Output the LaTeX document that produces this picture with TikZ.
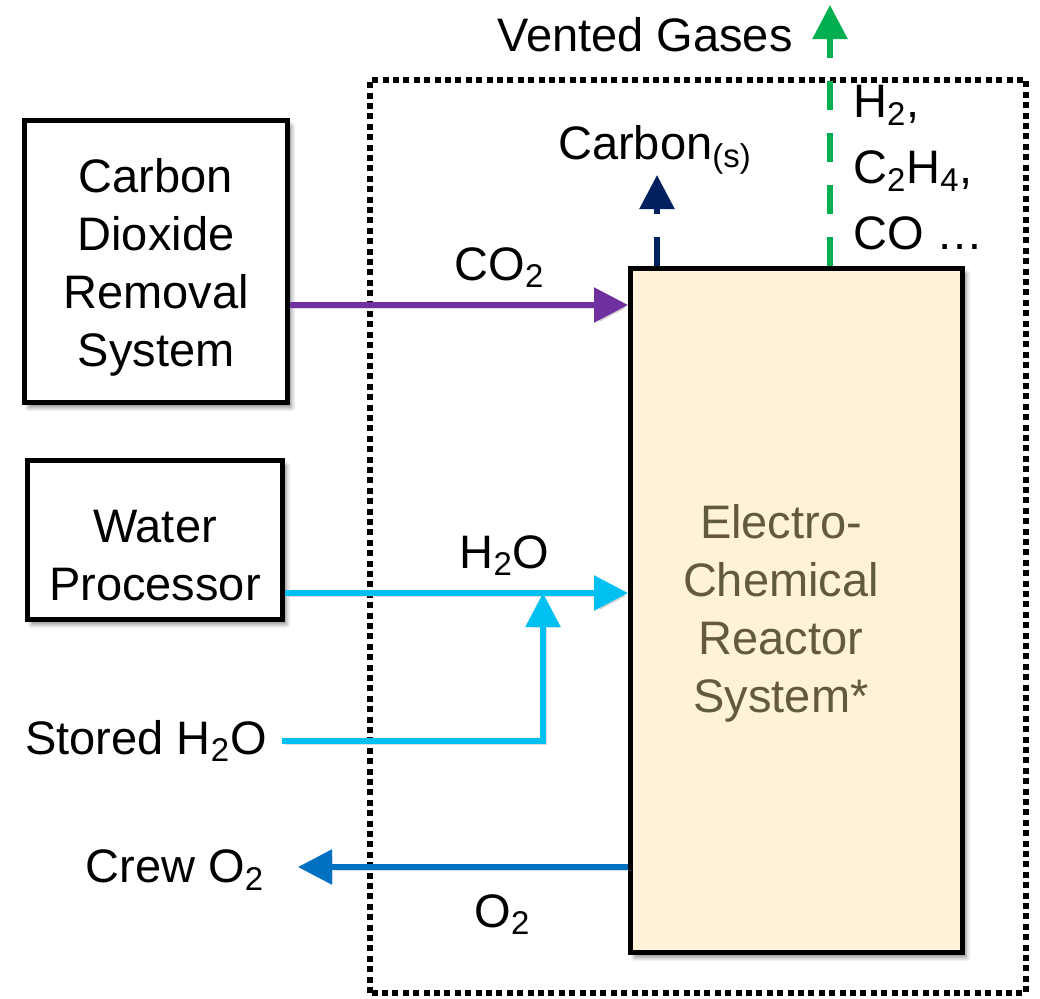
\documentclass[tikz,border=0pt]{standalone}
\usepackage{fontspec}
\setmainfont{Liberation Sans}
\usepackage{tikz}
\usetikzlibrary{arrows.meta,positioning,shadows.blur,calc}
\definecolor{co2col}{HTML}{7030A0}
\definecolor{h2ocol}{HTML}{00C0F2}
\definecolor{o2col}{HTML}{0070C0}
\definecolor{carbcol}{HTML}{002060}
\definecolor{ventcol}{HTML}{00B050}
\definecolor{ecrfill}{HTML}{FFF2D6}
\definecolor{ecrtext}{HTML}{625A3E}

\begin{document}
\begin{tikzpicture}[
  x=0.5pt, y=-0.5pt,
  font=\fontsize{23.5}{29}\selectfont,
  >={Triangle[length=17pt,width=17pt]},
  box/.style={draw, line width=2.5pt, inner sep=0pt,
    blur shadow={shadow xshift=2pt, shadow yshift=-2.5pt, shadow blur steps=6, shadow opacity=45}},
  sysbox/.style={box, fill=white, minimum width=131.5pt, minimum height=141pt},
  wpbox/.style={box, fill=white, minimum width=127.5pt, minimum height=79.5pt},
  ecrbox/.style={box, fill=ecrfill, minimum width=166pt, minimum height=342pt},
  txt/.style={align=center},
  flow/.style={->, line width=2.8pt},
  shade/.style={preaction={draw=black!45, opacity=0.3, transform canvas={xshift=1.5pt, yshift=-1.5pt}}},
  vent/.style={flow, dash pattern=on 14.5pt off 11.5pt},
  border/.style={line width=3pt, dash pattern=on 3pt off 2.2pt},
]
\useasboundingbox (0,0) rectangle (1040,998);

\coordinate (bl) at (370,993);
\coordinate (tr) at (1026,80);
\draw[border] (bl) rectangle (tr);

\node[sysbox] (cdrs) at (156,261.5) {};
\node[wpbox]  (wp)   at (155,540) {};
\node[ecrbox] (ecr)  at (796.5,610.5) {};
\node[txt] (cdrstxt) at ($(cdrs.center)+(0,6)$) {Carbon\\Dioxide\\Removal\\System};
\node[txt] (wptxt) at ($(wp.center)+(0,16)$) {Water\\Processor};
\node[txt, text=ecrtext] (ecrtxt) at (781,613) {Electro-\\Chemical\\Reactor\\System*};

\node (stored) at (146,741) {Stored H\textsubscript{2}O};
\node (crew)   at (175,870) {Crew O\textsubscript{2}};

\coordinate (co2y) at (0,305);
\coordinate (h2oy) at (0,593);
\coordinate (o2y)  at (0,867);
\coordinate (join) at (543,593);
\coordinate (o2out) at (298,867);
\coordinate (cout) at (657,175);
\coordinate (vout) at (830,5);

\draw[flow, shade, co2col] (cdrs.east |- co2y) -- (ecr.west |- co2y)
  node[pos=0.62, above=4pt, text=black] (co2lbl) {CO\textsubscript{2}};
\draw[flow, shade, h2ocol] (wp.east |- h2oy) -- (ecr.west |- h2oy)
  node[pos=0.64, above=4pt, text=black] (h2olbl) {H\textsubscript{2}O};
\draw[flow, shade, h2ocol] ([xshift=4pt]stored.east) -| (join);
\draw[flow, shade, o2col] (ecr.west |- o2y) -- (o2out)
  node[pos=0.38, below=9pt, text=black] (o2lbl) {O\textsubscript{2}};
\draw[vent, carbcol] (ecr.north -| cout) -- (cout);
\draw[vent, ventcol] (ecr.north -| vout) -- (vout);

\node (carb) at (655,150) {Carbon\textsubscript{(s)}};
\node (vented) at (645,35) {Vented Gases};
\node[anchor=west, align=left, font=\fontsize{23.5}{33}\selectfont] (gases) at (846,168)
  {H\textsubscript{2},\\C\textsubscript{2}H\textsubscript{4},\\CO \ldots};
\end{tikzpicture}
\end{document}
